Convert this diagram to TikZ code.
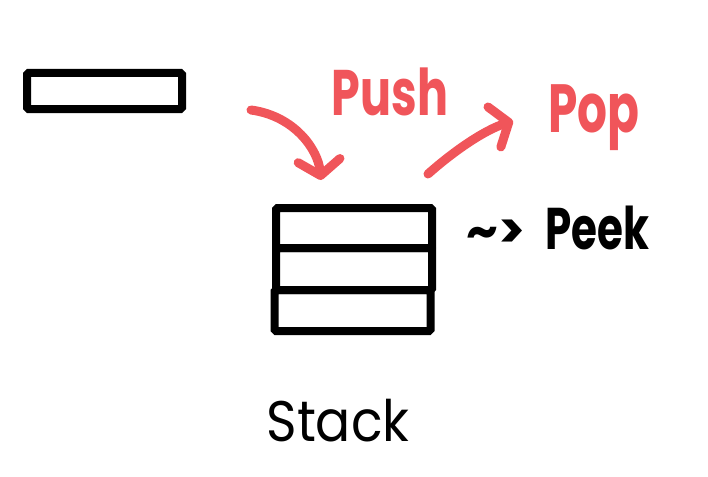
\documentclass[tikz,border=0pt]{standalone}
\usepackage{fontspec}
\setmainfont{Poppins}
\usepackage{xcolor}
\usepackage{graphicx}
\usepackage{tikz}
\usetikzlibrary{arrows.meta, positioning}
\definecolor{penred}{HTML}{F0555A}
\newcommand{\tallpen}[2]{\scalebox{1}[#1]{#2}}

\tikzset{
    cell/.style={draw, line width=8pt, minimum width=156pt, minimum height=40pt, inner sep=0pt, rounded corners=1.5pt},
    redpen/.style={penred, line width=9pt, line cap=round},
    hook/.style={-{Straight Barb[round, length=15pt, width=42pt]}},
    bigpen/.style={font=\fontsize{#1}{#1}\selectfont\bfseries, anchor=base, inner sep=0pt},
}

\begin{document}
\begin{tikzpicture}[x=1pt, y=-1pt]
    \useasboundingbox (0,0) rectangle (708,476);

    % 单个元素
    \node[cell, minimum width=155pt, minimum height=36pt] (item) at (104.5,91) {};

    % 栈
    \node[cell] (top) at (354,228) {};
    \node[cell, minimum height=42pt, below=-8pt of top] (mid) {};
    \node[cell, minimum height=41pt, below=-8pt of mid, xshift=-1.5pt] (bottom) {};
    \node[font=\fontsize{52}{52}\selectfont, anchor=base, inner sep=0pt] (stack) at (338,441) {\tallpen{1.1}{Stack}};

    % Push
    \node[penred, bigpen=46] (push) at (390,115) {\tallpen{1.4}{Push}};
    \coordinate (pushfrom) at (251,110);
    \coordinate (pushto) at (321,180);
    \draw[redpen, hook] (pushfrom) .. controls (295,116) and (318,150) .. (pushto);

    % Pop
    \node[penred, bigpen=47] (pop) at (594,132) {\tallpen{1.45}{Pop}};
    \coordinate (popfrom) at (428,174);
    \coordinate (popto) at (513,121);
    \draw[redpen, hook] (popfrom) .. controls (455,150) and (485,130) .. (popto);

    % Peek
    \node[bigpen=42] (peek) at (597,249) {\tallpen{1.4}{Peek}};
    \node[bigpen=50] (peekmark) at (496,248) {\textasciitilde>};
\end{tikzpicture}
\end{document}
